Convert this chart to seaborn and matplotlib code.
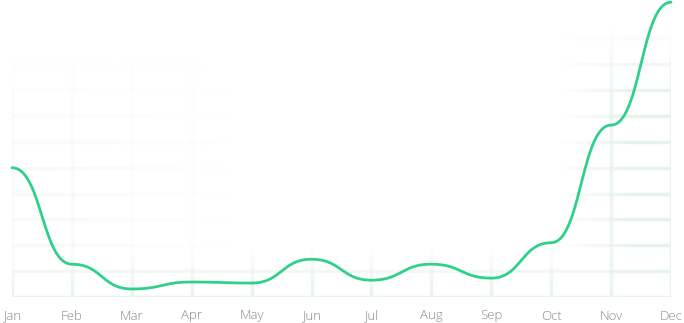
import numpy as np
import pandas as pd
import matplotlib
matplotlib.use("Agg")
import matplotlib.pyplot as plt
import seaborn as sns
from matplotlib.collections import LineCollection

months = ["Jan", "Feb", "Mar", "Apr", "May", "Jun", "Jul", "Aug", "Sep", "Oct", "Nov", "Dec"]
values = [50, 12.7, 3.1, 5.8, 5.4, 14.6, 6.5, 12.7, 7.3, 21, 66.5, 114]
y_max = 114.5
grid_step = 10

sns.set_theme(style="white")
plt.rcParams["font.family"] = ["Open Sans", "DejaVu Sans"]

W, H = 684, 323
fig = plt.figure(figsize=(W / 100, H / 100), dpi=100)
x0, x1 = 12, 671
ytop, ybot = 1, 297
ax = fig.add_axes([x0 / W, (H - ybot) / H, (x1 - x0) / W, (ybot - ytop) / H])
n = len(months) - 1
ax.set_xlim(0, n)
ax.set_ylim(0, y_max)

# faded grid: strong along bottom rows and right side, faint patches on left
def alpha_at(xn, yv):
    px = x0 + xn * (x1 - x0)
    py = ybot - yv / y_max * (ybot - ytop)
    a_bottom = np.clip(1 - (ybot - py) / 50, 0, 1)
    a_right = np.clip((px - 560) / 70, 0, 1) * np.clip((py - 25) / 70, 0, 1)
    a_left = 0.3 * np.clip((230 - px) / 180, 0, 1) * np.clip((py - 60) / 90, 0, 1)
    return float(np.clip(max(a_bottom, a_right, a_left), 0, 1))

segs, cols = [], []
gcol = np.array(matplotlib.colors.to_rgb("#e6f3e9"))
hlines = np.arange(0, 101, grid_step)
for xi in range(len(months)):
    ys = np.linspace(0, y_max - 5, 80)
    for a, b in zip(ys[:-1], ys[1:]):
        segs.append([(xi, a), (xi, b)])
        cols.append((*gcol, alpha_at(xi / n, (a + b) / 2)))
for hv in hlines:
    xs = np.linspace(0, n, 160)
    for a, b in zip(xs[:-1], xs[1:]):
        segs.append([(a, hv), (b, hv)])
        cols.append((*gcol, alpha_at((a + b) / 2 / n, hv)))
ax.add_collection(LineCollection(segs, colors=cols, linewidths=2.4, zorder=1, capstyle="butt"))

# bump-style smoothing (horizontal tangents at each point) for display
def bump(x, y, num=50):
    xs, ys = [], []
    for i in range(len(x) - 1):
        t = np.linspace(0, 1, num, endpoint=False)
        xa, xb = x[i], x[i + 1]
        xm = (xa + xb) / 2
        bx = (1 - t)**3 * xa + 3 * (1 - t)**2 * t * xm + 3 * (1 - t) * t**2 * xm + t**3 * xb
        by = (1 - t)**3 * y[i] + 3 * (1 - t)**2 * t * y[i] + 3 * (1 - t) * t**2 * y[i + 1] + t**3 * y[i + 1]
        xs.append(bx); ys.append(by)
    xs.append([x[-1]]); ys.append([y[-1]])
    return np.concatenate(xs), np.concatenate(ys)

sx, sy = bump(list(range(len(months))), values)
df = pd.DataFrame({"x": sx, "y": sy})
sns.lineplot(data=df, x="x", y="y", ax=ax, color="#2fd18a", linewidth=2.0,
             zorder=3, solid_capstyle="round", sort=False)
ax.lines[-1].set_clip_on(False)

ax.set_xticks(range(len(months)))
ax.set_xticklabels(months, fontsize=9.5, color="#8a8a8a", fontweight="light")
ax.tick_params(axis="x", length=0, pad=9)
ax.set_yticks([])
ax.set_xlabel(""); ax.set_ylabel("")
for s in ax.spines.values():
    s.set_visible(False)
ax.set_facecolor("none")

fig.savefig("out.png", dpi=100)
